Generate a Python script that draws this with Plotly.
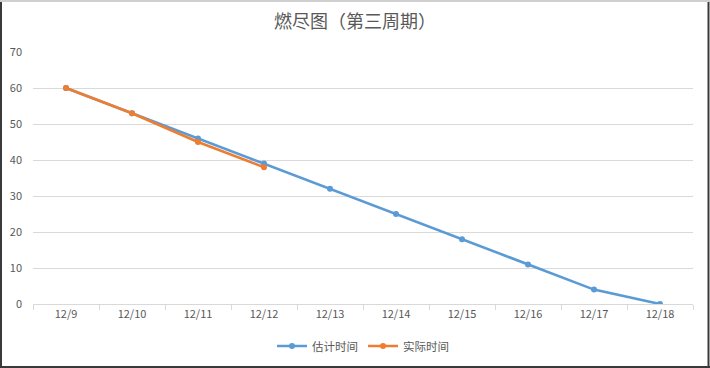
import plotly.graph_objects as go

categories = ["12/9", "12/10", "12/11", "12/12", "12/13", "12/14", "12/15", "12/16", "12/17", "12/18"]
estimated = [60, 53, 46, 39, 32, 25, 18, 11, 4, 0]
actual = [60, 53, 45, 38]
title = "燃尽图（第三周期）"
series_names = ["估计时间", "实际时间"]
y_ticks = [0, 10, 20, 30, 40, 50, 60, 70]

font_family = "Noto Sans CJK SC, Microsoft YaHei, sans-serif"
txt = "#595959"

fig = go.Figure()
fig.add_trace(go.Scatter(
    x=categories, y=estimated, name=series_names[0], mode="lines+markers",
    line=dict(color="#5B9BD5", width=2.6), marker=dict(size=6, color="#5B9BD5"),
))
fig.add_trace(go.Scatter(
    x=categories[:len(actual)], y=actual, name=series_names[1], mode="lines+markers",
    line=dict(color="#ED7D31", width=2.6), marker=dict(size=6, color="#ED7D31"),
))

L, R, T, B = 33, 17, 52, 64
W, H = 710, 368
pw, ph = W - L - R, H - T - B

def px(x):
    return (x - L) / pw

def py(y):
    return (H - B - y) / ph

shapes = [
    dict(type="line", xref="paper", yref="paper", x0=px(1), x1=px(1), y0=py(0), y1=py(H),
         line=dict(color="#3a3a3a", width=2)),
    dict(type="line", xref="paper", yref="paper", x0=px(708.5), x1=px(708.5), y0=py(0), y1=py(H),
         line=dict(color="#3a3a3a", width=2)),
    dict(type="line", xref="paper", yref="paper", x0=px(0), x1=px(W), y0=py(367), y1=py(367),
         line=dict(color="#3a3a3a", width=2)),
    dict(type="line", xref="paper", yref="paper", x0=px(0), x1=px(W), y0=py(1), y1=py(1),
         line=dict(color="#d0d0d0", width=2)),
]

fig.update_layout(
    width=W, height=H,
    margin=dict(l=L, r=R, t=T, b=B, autoexpand=False),
    paper_bgcolor="white", plot_bgcolor="white",
    font=dict(family=font_family, color=txt, size=11),
    title=dict(text=title, x=0.5, xanchor="center", y=1 - 22 / H, yanchor="middle",
               font=dict(size=18, color=txt, family=font_family)),
    showlegend=True,
    legend=dict(orientation="h", x=0.5, xanchor="center", y=py(346), yanchor="middle",
                font=dict(size=11.5, color=txt), itemwidth=30),
    xaxis=dict(
        type="category", range=[-0.5, 9.5], showgrid=False, zeroline=False,
        showline=True, linecolor="#d9d9d9", linewidth=1, automargin=False,
        ticks="outside", tickson="boundaries", ticklen=5, tickcolor="#d9d9d9",
        tickfont=dict(size=11, color=txt),
    ),
    yaxis=dict(
        range=[0, 70], tickvals=y_ticks, showgrid=True, gridcolor="#d9d9d9", gridwidth=1,
        zeroline=False, showline=False, ticks="", ticklabelstandoff=10, automargin=False,
        tickfont=dict(size=11, color=txt),
    ),
    shapes=shapes,
)

fig.write_html("out.html", config={"displayModeBar": False},
               post_script="document.body.style.margin='0';document.body.style.overflow='hidden';")
